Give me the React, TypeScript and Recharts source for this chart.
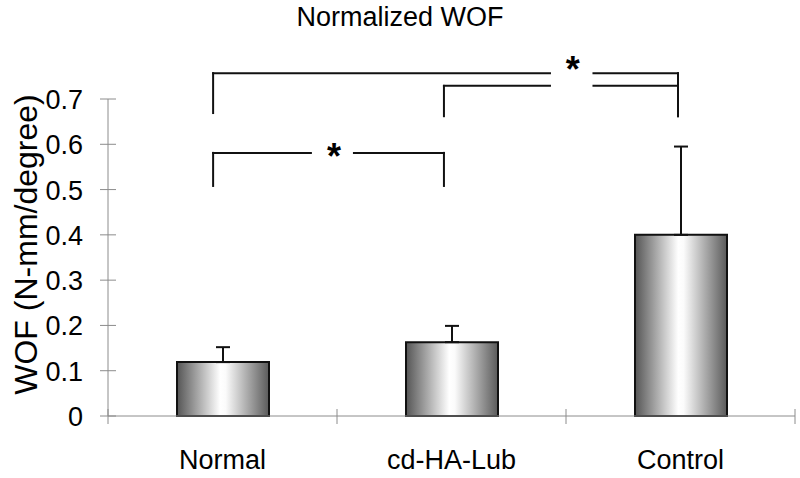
import React from 'react';
import {
  BarChart,
  Bar,
  XAxis,
  YAxis,
  ErrorBar,
  ReferenceLine,
  ReferenceDot,
} from 'recharts';

const categories = ['Normal', 'cd-HA-Lub', 'Control'];
const means = [0.119, 0.163, 0.4];
const errors = [0.033, 0.036, 0.195];
const yTicks = [0, 0.1, 0.2, 0.3, 0.4, 0.5, 0.6, 0.7];

// significance brackets, in axis units (x: 0..3 across the categories)
const brackets = [
  { from: 0.459, to: 2.489, y: 0.757, leftEnd: 0.669, rightEnd: 0.662, gap: [1.93, 2.12], star: { x: 2.03, y: 0.784 } },
  { from: 1.467, to: 2.489, y: 0.729, leftEnd: 0.662, rightEnd: 0.662, gap: [1.93, 2.12], star: null },
  { from: 0.459, to: 1.467, y: 0.581, leftEnd: 0.508, rightEnd: 0.508, gap: [0.886, 1.074], star: { x: 0.987, y: 0.592 } },
];

const FONT = '"Liberation Sans", Arial, sans-serif';
const AXIS_GREY = '#8c8c8c';

const data = categories.map((name, i) => ({
  name,
  pos: i + 0.5,
  wof: means[i],
  err: [0, errors[i]],
}));

const segments = brackets.flatMap(b => [
  [{ x: b.from, y: b.y }, { x: b.from, y: b.leftEnd }],
  [{ x: b.from, y: b.y }, { x: b.gap[0], y: b.y }],
  [{ x: b.gap[1], y: b.y }, { x: b.to, y: b.y }],
  [{ x: b.to, y: b.y }, { x: b.to, y: b.rightEnd }],
]);

const XTick = (props: any) => {
  const { x, y, payload } = props;
  const v = payload.value;
  if (Number.isInteger(v)) {
    return <line x1={x} x2={x} y1={y - 7} y2={y + 8} stroke={AXIS_GREY} strokeWidth={1} />;
  }
  const label = categories[Math.floor(v)];
  return (
    <text x={x} y={y + 53} textAnchor="middle" fontFamily={FONT} fontSize={27} fill="#000">
      {label}
    </text>
  );
};

const YTick = (props: any) => {
  const { x, y, payload } = props;
  const v = payload.value;
  return (
    <g>
      <line x1={x - 8} x2={x + 8} y1={y} y2={y} stroke={AXIS_GREY} strokeWidth={1} />
      <text x={x - 25} y={y + 10} textAnchor="end" fontFamily={FONT} fontSize={27} fill="#000">
        {v === 0 ? '0' : v.toFixed(1)}
      </text>
    </g>
  );
};

const YLabel = (props: any) => {
  const { viewBox } = props;
  const cx = viewBox.x - 22;
  const cy = viewBox.y + viewBox.height / 2 - 13;
  return (
    <text
      x={cx}
      y={cy}
      transform={`rotate(-90, ${cx}, ${cy})`}
      textAnchor="middle"
      dominantBaseline="central"
      fontFamily={FONT}
      fontSize={32}
      fill="#000"
    >
      WOF (N-mm/degree)
    </text>
  );
};

const Star = (props: any) => {
  const { cx, cy } = props;
  return (
    <text x={cx} y={cy + 21} textAnchor="middle" fontFamily={FONT} fontSize={36} fontWeight="bold" fill="#000">
      *
    </text>
  );
};

export default function App() {
  return (
    <div style={{ position: 'relative', width: 800, height: 478, background: '#fff' }}>
      <style>{'body{margin:0;}'}</style>
      <div
        style={{
          position: 'absolute',
          top: 2,
          left: 0,
          width: 800,
          textAlign: 'center',
          fontFamily: FONT,
          fontSize: 27,
          lineHeight: '30px',
          color: '#000',
        }}
      >
        Normalized WOF
      </div>
      <BarChart width={800} height={478} data={data} margin={{ top: 99, right: 5, bottom: 0, left: 48 }}>
        <defs>
          <linearGradient id="barGrad" x1="0" y1="0" x2="1" y2="0">
            <stop offset="0%" stopColor="#555555" />
            <stop offset="47%" stopColor="#ffffff" />
            <stop offset="53%" stopColor="#fbfbfb" />
            <stop offset="100%" stopColor="#5a5a5a" />
          </linearGradient>
        </defs>
        <XAxis
          type="number"
          dataKey="pos"
          domain={[0, 3]}
          ticks={[0, 0.5, 1, 1.5, 2, 2.5, 3]}
          interval={0}
          height={62}
          tickSize={0}
          tickMargin={0}
          tickLine={false}
          axisLine={{ stroke: AXIS_GREY, strokeWidth: 1 }}
          tick={(p: any) => <XTick {...p} />}
        />
        <YAxis
          type="number"
          domain={[0, 0.7]}
          ticks={yTicks}
          interval={0}
          width={60}
          tickSize={0}
          tickMargin={0}
          tickLine={false}
          axisLine={{ stroke: AXIS_GREY, strokeWidth: 1 }}
          tick={(p: any) => <YTick {...p} />}
          label={{ content: (p: any) => <YLabel {...p} /> }}
        />
        <Bar dataKey="wof" barSize={92} fill="url(#barGrad)" stroke="#111" strokeWidth={2} isAnimationActive={false}>
          <ErrorBar dataKey="err" width={7} stroke="#111" strokeWidth={2} direction="y" isAnimationActive={false} />
        </Bar>
        {segments.map((seg, i) => (
          <ReferenceLine
            key={`seg-${i}`}
            segment={seg}
            stroke="#111"
            strokeWidth={2}
            strokeLinecap="square"
            ifOverflow="visible"
          />
        ))}
        {brackets
          .filter(b => b.star)
          .map((b, i) => (
            <ReferenceDot
              key={`star-${i}`}
              x={b.star!.x}
              y={b.star!.y}
              r={0}
              ifOverflow="visible"
              shape={(p: any) => <Star {...p} />}
            />
          ))}
      </BarChart>
    </div>
  );
}
